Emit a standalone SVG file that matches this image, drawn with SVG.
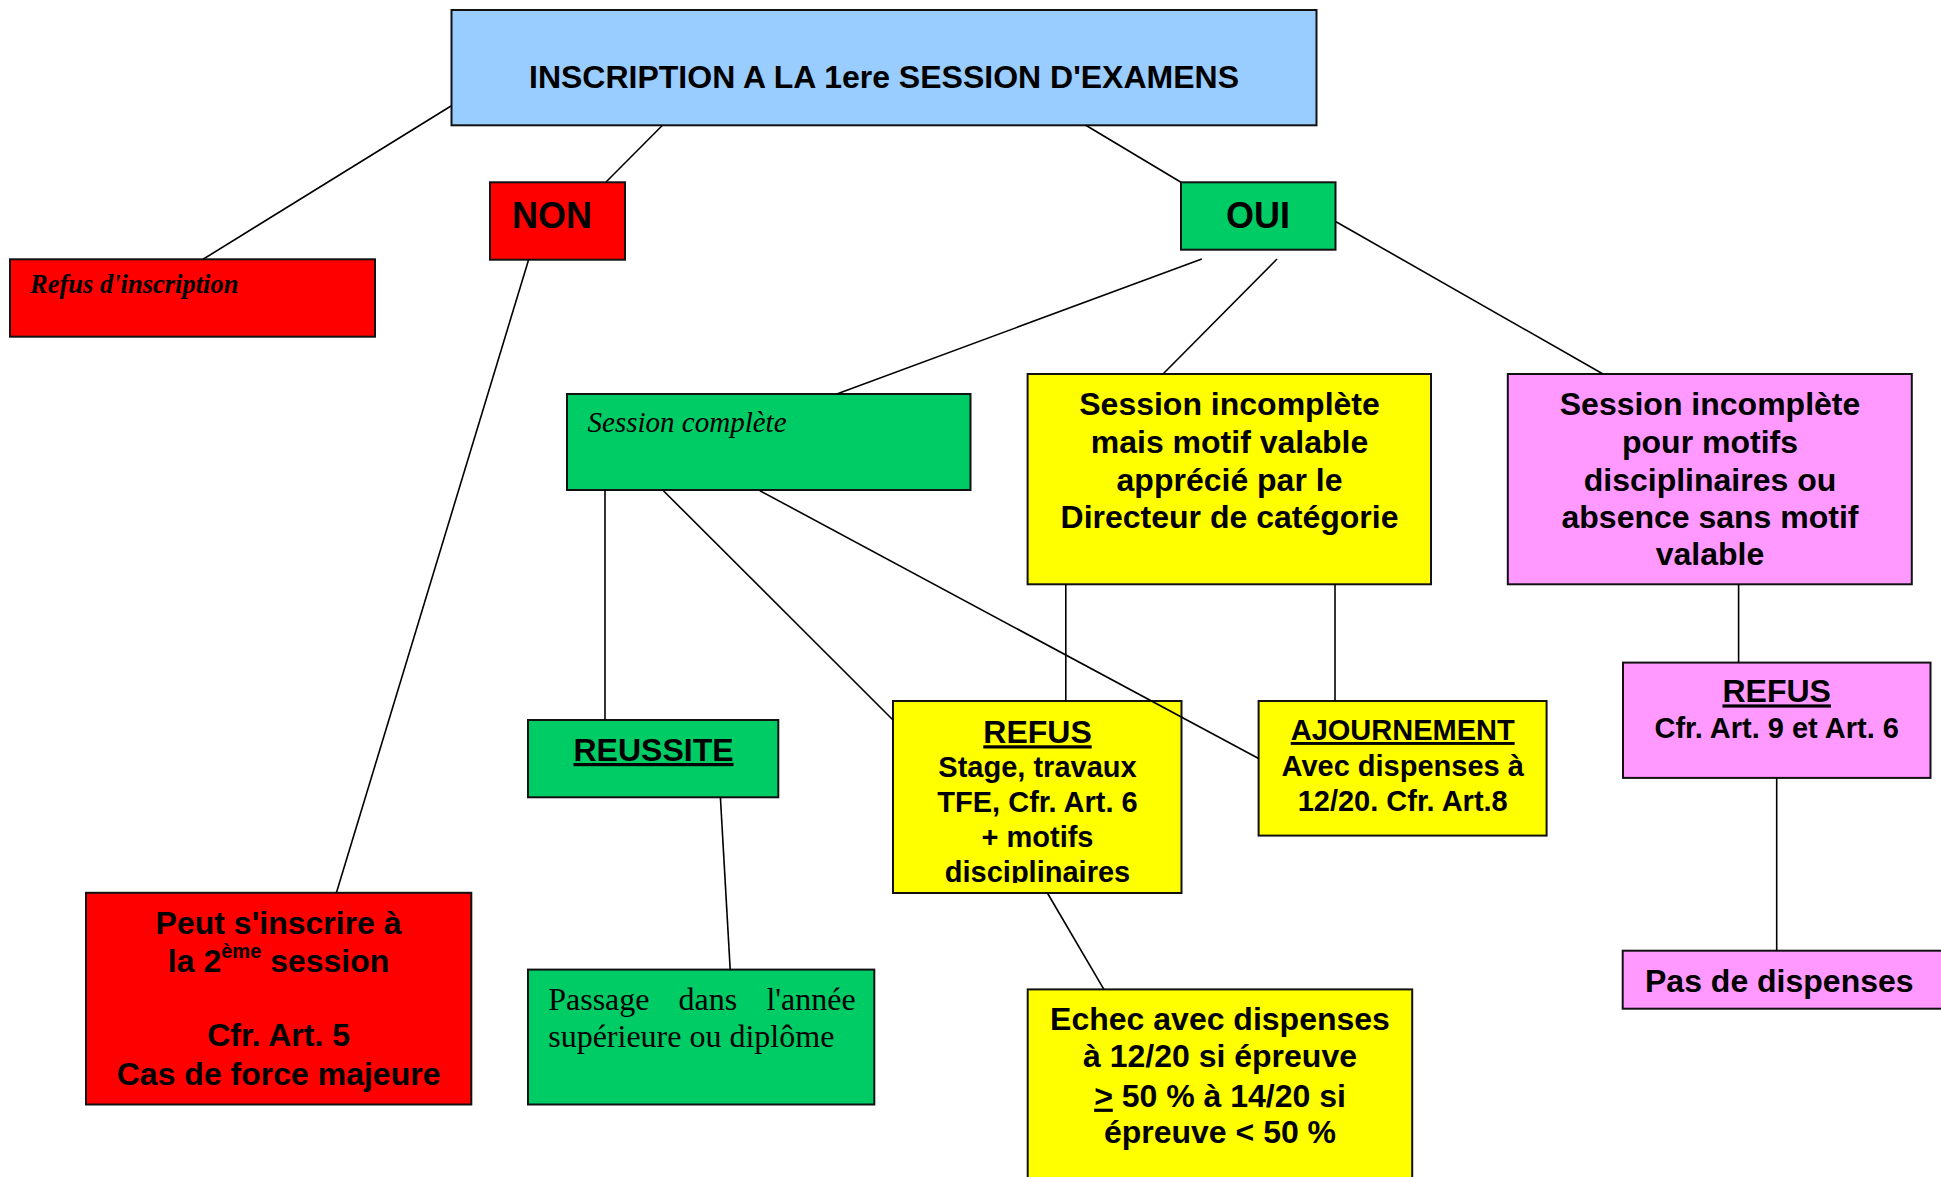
<svg xmlns="http://www.w3.org/2000/svg" width="1941" height="1177" viewBox="0 0 1941 1177">
<style>
.box{stroke:#111;stroke-width:2}
.blue{fill:#99CCFF}.red{fill:#FF0000}.green{fill:#00CC66}.yellow{fill:#FFFF00}.pink{fill:#FF99FF}
.t{font-family:"Liberation Sans",Arial,sans-serif;font-weight:bold;fill:#000}
.c{text-anchor:middle}
.s32{font-size:32px}.s29{font-size:29px}.s36{font-size:36px}
.serif{font-family:"Liberation Serif","Times New Roman",serif;fill:#000}
.u{text-decoration:underline}
.con line{stroke:#000;stroke-width:1.6}
</style>
<defs>
<clipPath id="clipRefus"><rect x="893" y="701" width="289" height="182"/></clipPath>
</defs>
<rect width="1941" height="1177" fill="#fff"/>

<g id="node-inscription">
<rect class="box blue" x="451.5" y="10" width="865" height="115.3"/>
<text class="t s32 c" x="884" y="88.3">INSCRIPTION A LA 1ere SESSION D'EXAMENS</text>
</g>

<g id="node-refus-inscription">
<rect class="box red" x="10" y="259.3" width="365" height="77.4"/>
<text class="serif" x="30" y="293" font-size="26.5" font-weight="bold" font-style="italic">Refus d'inscription</text>
</g>

<g id="node-non">
<rect class="box red" x="490" y="182.3" width="135" height="77.4"/>
<text class="t s36 c" x="552" y="228">NON</text>
</g>

<g id="node-oui">
<rect class="box green" x="1181" y="182.3" width="154.5" height="67.4"/>
<text class="t s36 c" x="1258" y="228">OUI</text>
</g>

<g id="node-session-complete">
<rect class="box green" x="567" y="394" width="403.5" height="96"/>
<text class="serif" x="587.6" y="431.7" font-size="29" font-style="italic">Session complète</text>
</g>

<g id="node-incomplete-valable">
<rect class="box yellow" x="1027.6" y="374" width="403.4" height="210.3"/>
<text class="t s32 c" x="1229.5" y="415">Session incomplète</text>
<text class="t s32 c" x="1229.5" y="453">mais motif valable</text>
<text class="t s32 c" x="1229.5" y="490.7">apprécié par le</text>
<text class="t s32 c" x="1229.5" y="528">Directeur de catégorie</text>
</g>

<g id="node-incomplete-disciplinaire">
<rect class="box pink" x="1507.8" y="374" width="404" height="210.3"/>
<text class="t s32 c" x="1710" y="415">Session incomplète</text>
<text class="t s32 c" x="1710" y="453">pour motifs</text>
<text class="t s32 c" x="1710" y="490.7">disciplinaires ou</text>
<text class="t s32 c" x="1710" y="528">absence sans motif</text>
<text class="t s32 c" x="1710" y="565">valable</text>
</g>

<g id="node-reussite">
<rect class="box green" x="528" y="720" width="250.3" height="77.3"/>
<text class="t s32 c u" x="653.5" y="761">REUSSITE</text>
</g>

<g id="node-refus-stage">
<rect class="box yellow" x="893" y="701" width="288.5" height="192"/>
<g clip-path="url(#clipRefus)">
<text class="t s32 c u" x="1037.5" y="743.3">REFUS</text>
<text class="t s29 c" x="1037.5" y="777.3">Stage, travaux</text>
<text class="t s29 c" x="1037.5" y="811.7">TFE, Cfr. Art. 6</text>
<text class="t s29 c" x="1037.5" y="846.7">+ motifs</text>
<text class="t s29 c" x="1037.5" y="881.7">disciplinaires</text>
</g>
</g>

<g id="node-ajournement">
<rect class="box yellow" x="1258.6" y="701" width="288" height="134.6"/>
<text class="t s29 c u" x="1402.7" y="740">AJOURNEMENT</text>
<text class="t s29 c" x="1402.7" y="776.3">Avec dispenses à</text>
<text class="t s29 c" x="1402.7" y="811.1">12/20. Cfr. Art.8</text>
</g>

<g id="node-refus-art9">
<rect class="box pink" x="1623" y="662.6" width="307.5" height="115.3"/>
<text class="t s32 c u" x="1776.7" y="702.4">REFUS</text>
<text class="t s29 c" x="1776.7" y="738">Cfr. Art. 9 et Art. 6</text>
</g>

<g id="node-pas-dispenses">
<rect class="box pink" x="1622.7" y="950.7" width="340" height="58"/>
<text class="t s32" x="1645" y="991.7">Pas de dispenses</text>
</g>

<g id="node-peut-inscrire">
<rect class="box red" x="86" y="892.8" width="385.3" height="211.7"/>
<text class="t s32 c" x="278.6" y="934.4">Peut s'inscrire à</text>
<text class="t s32 c" x="278.6" y="971.7">la 2<tspan font-size="20" dy="-14">ème</tspan><tspan dy="14"> session</tspan></text>
<text class="t s32 c" x="278.6" y="1046.3">Cfr. Art. 5</text>
<text class="t s32 c" x="278.6" y="1084.6">Cas de force majeure</text>
</g>

<g id="node-passage">
<rect class="box green" x="528" y="969.6" width="346.3" height="134.9"/>
<text class="serif" font-size="32" y="1010"><tspan x="548.2">Passage</tspan><tspan x="678.5">dans</tspan><tspan x="766.4">l'année</tspan></text>
<text class="serif" font-size="32" x="548.2" y="1047.3">supérieure ou diplôme</text>
</g>

<g id="node-echec">
<rect class="box yellow" x="1027.7" y="989.4" width="384.5" height="200"/>
<text class="t s32 c" x="1220" y="1030.3">Echec avec dispenses</text>
<text class="t s32 c" x="1220" y="1066.9">à 12/20 si épreuve</text>
<text class="t s32 c" x="1220" y="1106.7"><tspan class="u">&gt;</tspan> 50 % à 14/20 si</text>
<text class="t s32 c" x="1220" y="1143.3">épreuve &lt; 50 %</text>
</g>

<g id="connectors" class="con">
<line x1="451" y1="106" x2="203" y2="259.3"/>
<line x1="662.5" y1="125.3" x2="605.8" y2="182.3"/>
<line x1="1085.8" y1="125.3" x2="1181" y2="182.3"/>
<line x1="528.6" y1="259.7" x2="336.4" y2="892.8"/>
<line x1="1201.8" y1="259" x2="836.8" y2="394"/>
<line x1="1277" y1="259" x2="1163" y2="374"/>
<line x1="1336" y1="221.7" x2="1603" y2="374"/>
<line x1="605" y1="490" x2="605" y2="720"/>
<line x1="663.4" y1="490.7" x2="893" y2="720"/>
<line x1="759.9" y1="490.7" x2="1258.6" y2="758.5"/>
<line x1="1065.8" y1="584.3" x2="1065.8" y2="701"/>
<line x1="1335" y1="584.3" x2="1335" y2="701"/>
<line x1="1738.6" y1="584.3" x2="1738.6" y2="662.6"/>
<line x1="1776.7" y1="778" x2="1776.7" y2="950.7"/>
<line x1="720.4" y1="797.3" x2="730.2" y2="969.6"/>
<line x1="1047.4" y1="893" x2="1103.9" y2="989.4"/>
</g>
</svg>
